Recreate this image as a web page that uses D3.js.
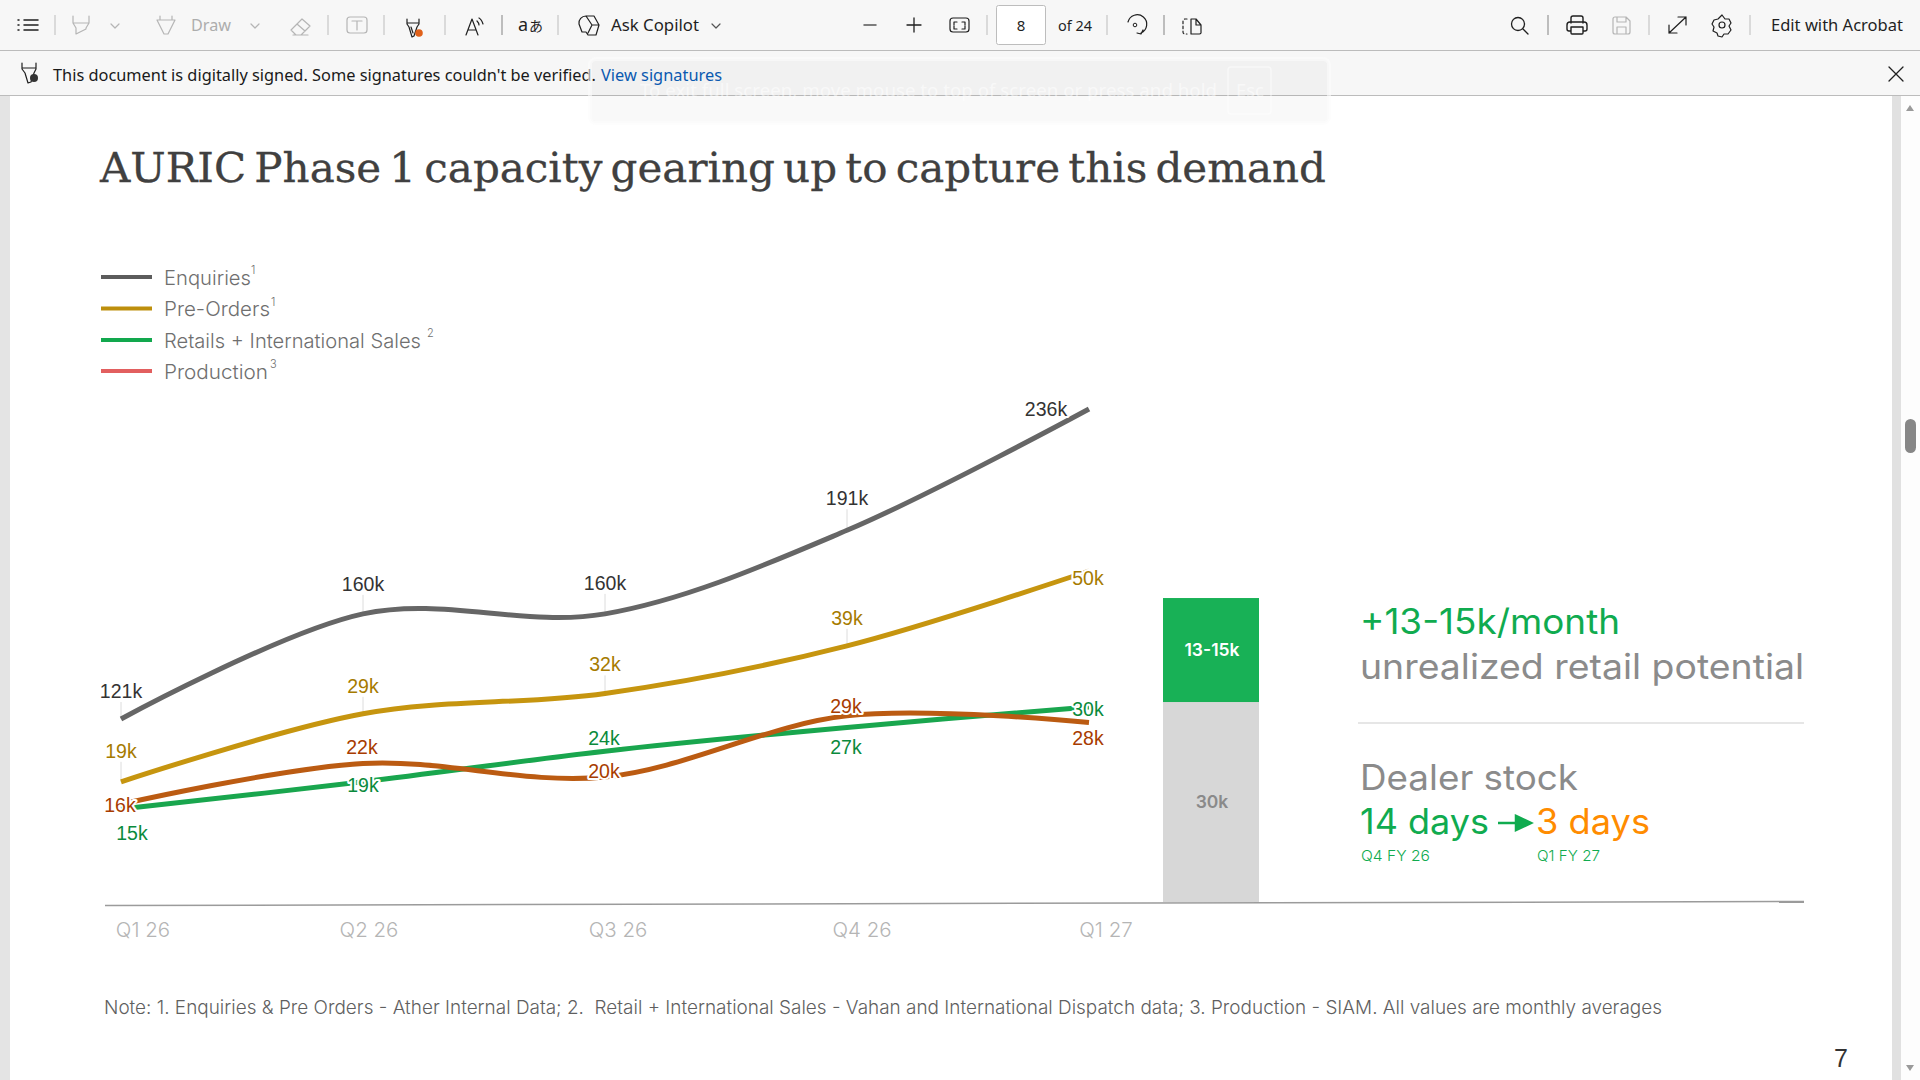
<!DOCTYPE html>
<html>
<head>
<meta charset="utf-8">
<title>AURIC Phase 1 capacity</title>
<script src="https://cdn.jsdelivr.net/npm/d3@7"></script>
<style>
  html, body { margin: 0; padding: 0; background: #fff; overflow: hidden; }
  svg { display: block; }
</style>
</head>
<body>
<div id="chart"></div>
<script>
const quarters = ['Q1 26', 'Q2 26', 'Q3 26', 'Q4 26', 'Q1 27'];
const enquiries = [121, 160, 160, 191, 236];
const preOrders = [19, 29, 32, 39, 50];
const retailSales = [15, 19, 23.5, 27, 30];
const production = [16, 22, 20, 29, 28];

const stockBarLabels = ['30k', '13-15k'];
const stockBarValues = [30, 15.6];

const legendNames = ['Enquiries', 'Pre-Orders', 'Retails + International Sales ', 'Production'];
const legendNotes = ['1', '1', '2', '3'];

const sansFont = 'Inter, "Noto Sans", sans-serif';
const uiFont = '"Noto Sans", "Open Sans", sans-serif';
const labelFont = '"Liberation Sans", Arial, sans-serif';

const svg = d3.select('#chart').append('svg').attr('width', 1920).attr('height', 1080);

const xQuarter = d3.scalePoint().domain(quarters).range([121, 1089]);
// each line family sits on its own scale, as on the slide
const yEnquiries = d3.scaleLinear().domain([121, 236]).range([719, 409]);
const yUnits = d3.scaleLinear().domain([0, 50]).range([911, 571]);
const yProduction = d3.scaleLinear().domain([0, 50]).range([913, 573]);
const yStock = d3.scaleLinear().domain([0, 50]).range([902, 568.7]);

function putText(parent, str, x, y, opts) {
  const t = parent.append('text')
    .text(str)
    .attr('x', x)
    .attr('y', y)
    .style('font-family', opts.font || sansFont)
    .style('font-size', opts.size + 'px')
    .style('font-weight', opts.weight || 400)
    .style('fill', opts.fill);
  if (opts.width) t.attr('textLength', opts.width).attr('lengthAdjust', 'spacingAndGlyphs');
  if (opts.anchor) t.style('text-anchor', opts.anchor);
  return t;
}

/* ---------- page ---------- */
svg.append('rect').attr('width', 1920).attr('height', 1080).attr('fill', '#fff');
svg.append('rect').attr('x', 0).attr('y', 96).attr('width', 10).attr('height', 984).attr('fill', '#e4e4e4');
svg.append('rect').attr('x', 1892).attr('y', 96).attr('width', 9).attr('height', 984).attr('fill', '#e1e1e1');
svg.append('rect').attr('x', 1901).attr('y', 96).attr('width', 19).attr('height', 984).attr('fill', '#fdfdfd');
svg.append('rect').attr('x', 1905).attr('y', 419).attr('width', 11).attr('height', 34).attr('rx', 5.5).attr('fill', '#878787');
svg.append('path').attr('d', 'M1906 111 L1910 105 L1914 111 Z').attr('fill', '#9a9a9a');
svg.append('path').attr('d', 'M1906 1065 L1910 1071 L1914 1065 Z').attr('fill', '#9a9a9a');

putText(svg, 'AURIC Phase 1 capacity gearing up to capture this demand', 100, 182, {
  font: '"DejaVu Serif", serif', size: 41, fill: '#404040', width: 1226
}).style('word-spacing', '-5px').style('stroke', '#404040').style('stroke-width', '0.3px');

/* ---------- legend ---------- */
const seriesColors = ['#5c5c5c', '#bd8f0c', '#12a84e', '#e25f5f'];
const legendY = [277, 308.5, 340, 371];
const legendWidths = [87, 106, 257, 104];
const noteGaps = [0, 1, 6, 2];

legendNames.forEach((name, i) => {
  svg.append('line')
    .attr('x1', 101).attr('x2', 152)
    .attr('y1', legendY[i]).attr('y2', legendY[i])
    .attr('stroke', seriesColors[i])
    .attr('stroke-width', 4);
  putText(svg, name, 164, Math.floor(legendY[i]) + 8, { size: 20, weight: 300, fill: '#6f6f6f', width: legendWidths[i] });
  const noteX = 164 + legendWidths[i] + noteGaps[i];
  putText(svg, legendNotes[i], noteX, legendY[i] - 3, { size: 11, weight: 300, fill: '#6f6f6f' });
});

/* ---------- bar ---------- */
const stockBar = svg.append('g').attr('class', 'g_stock_bar');
const barX = 1163, barWidth = 96;
const stacked = d3.cumsum(stockBarValues);

stockBar.selectAll('.stock_rect')
  .data(stockBarValues)
  .enter()
  .append('rect')
  .attr('class', 'stock_rect')
  .attr('x', barX)
  .attr('width', barWidth)
  .attr('y', (d, i) => yStock(stacked[i]))
  .attr('height', d => yStock(0) - yStock(d))
  .attr('fill', (d, i) => (i === 0 ? '#d7d7d7' : '#18b156'));

stockBarLabels.forEach((label, i) => {
  const mid = yStock(stacked[i] - stockBarValues[i] / 2);
  putText(stockBar, label, barX + barWidth / 2 + 1, mid + 6, {
    size: 17.5, weight: 600, anchor: 'middle', fill: i === 0 ? '#8a8a8a' : '#fff'
  });
});

/* ---------- axis ---------- */
svg.append('line')
  .attr('x1', 105).attr('y1', 905.5)
  .attr('x2', 1804).attr('y2', 901.5)
  .attr('stroke', '#9b9b9b')
  .attr('stroke-width', 1.5);

const tickShift = [21.5, 5.5, 12.5, 14.5, 16.5];
const xAxis = svg.append('g')
  .attr('class', 'g_x_axis')
  .attr('transform', 'translate(0,' + 918 + ')')
  .call(d3.axisBottom(xQuarter).tickSize(0));
xAxis.select('.domain').remove();
xAxis.selectAll('text')
  .attr('dx', (d, i) => tickShift[i])
  .attr('dy', '0.8em')
  .style('font-family', sansFont)
  .style('font-size', '20.5px')
  .style('font-weight', 300)
  .style('fill', '#b5b5b5');

/* ---------- lines ---------- */
const series = [
  { id: 'enquiries', values: enquiries, y: yEnquiries, color: '#666666', text: '#333333',
    offsets: [[0, -28], [0, -30], [0, -31], [0, -32], [-43, 0]], leaders: 4 },
  { id: 'preorders', values: preOrders, y: yUnits, color: '#c6950f', text: '#a67b00',
    offsets: [[0, -31], [0, -28], [0, -29], [0, -28], [-1, 7]], leaders: 4 },
  { id: 'retail', values: retailSales, y: yUnits, color: '#19a64e', text: '#0a8a3c',
    offsets: [[11, 24], [0, 3], [-1, -13], [-1, 20], [-1, 2]], leaders: 0 },
  { id: 'production', values: production, y: yProduction, color: '#bb5b12', text: '#a83c00',
    offsets: [[-1, 1], [-1, -16], [-1, -6], [-1, -10], [-1, 15]], leaders: 0 }
];

const gLines = svg.append('g').attr('class', 'g_lines');
const gLabels = svg.append('g').attr('class', 'g_labels');

series.forEach(s => {
  const line = d3.line()
    .x((d, i) => xQuarter(quarters[i]))
    .y(d => s.y(d))
    .curve(d3.curveCatmullRom.alpha(0));

  for (let i = 0; i < s.leaders; i++) {
    gLines.append('line')
      .attr('x1', xQuarter(quarters[i])).attr('x2', xQuarter(quarters[i]))
      .attr('y1', s.y(s.values[i]))
      .attr('y2', s.y(s.values[i]) + s.offsets[i][1] + 11)
      .attr('stroke', '#dcdcdc')
      .attr('stroke-width', 1);
  }

  gLines.append('path')
    .datum(s.values)
    .attr('class', 'line_' + s.id)
    .attr('d', line)
    .attr('fill', 'none')
    .attr('stroke', s.color)
    .attr('stroke-width', 5);

  gLabels.selectAll('.label_' + s.id)
    .data(s.values)
    .enter()
    .append('text')
    .attr('class', 'label_' + s.id)
    .text(d => Math.round(d) + 'k')
    .attr('x', (d, i) => xQuarter(quarters[i]) + s.offsets[i][0])
    .attr('y', (d, i) => s.y(d) + s.offsets[i][1])
    .attr('dominant-baseline', 'central')
    .style('text-anchor', 'middle')
    .style('font-family', labelFont)
    .style('font-size', '19.5px')
    .style('fill', s.text)
    .style('stroke', '#fff')
    .style('stroke-width', '4px')
    .style('stroke-linejoin', 'round')
    .style('paint-order', 'stroke');
});

/* ---------- right panel ---------- */
const green = '#10ab4f';
const side = svg.append('g').attr('class', 'g_side');
putText(side, '+13-15k/month', 1360, 634, { size: 35, weight: 400, fill: green, width: 260 });
putText(side, 'unrealized retail potential', 1360, 679, { size: 35, weight: 400, fill: '#8b8b8b', width: 444 });
side.append('line').attr('x1', 1358).attr('x2', 1804).attr('y1', 723).attr('y2', 723)
  .attr('stroke', '#dedede').attr('stroke-width', 1.5);
putText(side, 'Dealer stock', 1360, 790, { size: 35, weight: 400, fill: '#8b8b8b', width: 218 });
putText(side, '14 days', 1360, 834, { size: 35, weight: 400, fill: green, width: 129 });
side.append('path')
  .attr('d', 'M1498 823 H1518 M1516 816 L1531 823 L1516 830 Z')
  .attr('fill', green).attr('stroke', green).attr('stroke-width', 2.5);
putText(side, '3 days', 1536, 834, { size: 35, weight: 400, fill: '#ff8c00', width: 114 });
putText(side, 'Q4 FY 26', 1361, 861, { size: 15, weight: 300, fill: green, width: 69 });
putText(side, 'Q1 FY 27', 1537, 861, { size: 15, weight: 300, fill: green, width: 63 });

putText(svg, 'Note: 1. Enquiries & Pre Orders - Ather Internal Data; 2.  Retail + International Sales - Vahan and International Dispatch data; 3. Production - SIAM. All values are monthly averages',
  104, 1014, { size: 18.5, weight: 300, fill: '#5f5f5f', width: 1558 }).style('white-space', 'pre');
putText(svg, '7', 1834, 1067, { font: labelFont, size: 25, fill: '#333' });

/* ---------- viewer toolbar ---------- */
const bar = svg.append('g').attr('class', 'g_toolbar');
bar.append('rect').attr('width', 1920).attr('height', 95).attr('fill', '#f7f7f7');
bar.append('line').attr('x1', 0).attr('x2', 1920).attr('y1', 50.5).attr('y2', 50.5).attr('stroke', '#bcbcbc');
bar.append('line').attr('x1', 0).attr('x2', 1920).attr('y1', 95.5).attr('y2', 95.5).attr('stroke', '#bcbcbc');

[55, 328, 384, 445, 502, 558, 987, 1107, 1164, 1548, 1649, 1750].forEach(x => {
  bar.append('line').attr('x1', x).attr('x2', x).attr('y1', 15).attr('y2', 35).attr('stroke', '#bdbdbd')
    .attr('stroke-width', x === 502 || x === 1164 || x === 1548 ? 2 : 1);
});

function icon(d, color, w) {
  return bar.append('path').attr('d', d).attr('fill', 'none').attr('stroke', color).attr('stroke-width', w || 1.2)
    .attr('stroke-linejoin', 'round').attr('stroke-linecap', 'round');
}
const dim = '#b5b5b5', dark = '#1f1f1f';
icon('M18 20h1M18 25h1M18 30h1M24 20h14M24 25h14M24 30h14', dark, 1.5);
icon('M73 16v7l3 5v6l10-5v-1l3-5v-7M73 23h16', dim);
icon('M111 24l4 4 4-4', dim);
icon('M157 20h18l-7 14h-4zM160 16v4M172 16v4', dim);
putText(bar, 'Draw', 191, 31, { font: uiFont, size: 17, fill: '#adadad', width: 40 });
icon('M251 24l4 4 4-4', dim);
icon('M291 30l11-11 8 7-9 9h-5zM297 24l8 7M293 35h15', dim);
icon('M350 17h14a3 3 0 0 1 3 3v10a3 3 0 0 1-3 3h-14a3 3 0 0 1-3-3v-10a3 3 0 0 1 3-3zM352 21h10M357 21v9', dim);
icon('M407 19v5l2 3 3 10 2-1 3-9 2-3v-5M407 23h12M411 27l2 6', dark);
bar.append('circle').attr('cx', 419).attr('cy', 33).attr('r', 3.8).attr('fill', '#e0611a');
icon('M466 35l6-16 6 16M468 30h8M479 18c2 1 3 3 4 6M477 21c1 1 2 2 2 4', dark);
putText(bar, 'a', 518, 31, { font: uiFont, size: 18, fill: dark });
putText(bar, '\u3042', 529, 31, { font: '"Noto Sans CJK JP"', size: 14, fill: dark });
icon('M579 24a7 7 0 0 1 7-8h8l5 9-3 10h-8l-2-3h-4zM586 16l6 9h7M592 25l-4 8', dark);
putText(bar, 'Ask Copilot', 611, 31, { font: uiFont, size: 17, fill: '#1f1f1f', width: 88 });
icon('M712 24l4 4 4-4', '#555');
icon('M864 25h12', '#555', 1.5);
icon('M907 25h14M914 18v14', dark, 1.3);
icon('M953 18h13a3 3 0 0 1 3 3v8a3 3 0 0 1-3 3h-13a3 3 0 0 1-3-3v-8a3 3 0 0 1 3-3zM954 25v-3h3M962 22h3v3M965 26v3h-3M957 29h-3v-3', dark);
bar.append('rect').attr('x', 996.5).attr('y', 5.5).attr('width', 49).attr('height', 39).attr('rx', 2).attr('fill', '#fff').attr('stroke', '#bdbdbd');
putText(bar, '8', 1021, 31, { font: uiFont, size: 15, anchor: 'middle', fill: dark });
putText(bar, 'of 24', 1058, 31, { font: uiFont, size: 15, fill: dark, width: 34 });
icon('M1128 22a9.5 9.5 0 1 1 13 11M1143 30l-2 4-4-1', dark);
bar.append('circle').attr('cx', 1135).attr('cy', 25).attr('r', 1.8).attr('fill', 'none').attr('stroke', dark);
icon('M1191 19h5l5 6v8a2 2 0 0 1-2 1h-8zM1196 19v6h5', dark);
icon('M1187 19h-2a2 2 0 0 0-2 2v11a2 2 0 0 0 2 2h2', dark).attr('stroke-dasharray', '2.5 2.5');
bar.append('circle').attr('cx', 1518).attr('cy', 24).attr('r', 6.5).attr('fill', 'none').attr('stroke', dark).attr('stroke-width', 1.3);
icon('M1523 29l5 5', dark, 1.3);
icon('M1571 23v-5a2 2 0 0 1 2-2h8a2 2 0 0 1 2 2v5M1571 31h-2a2 2 0 0 1-2-2v-4a3 3 0 0 1 3-3h14a3 3 0 0 1 3 3v4a2 2 0 0 1-2 2h-2M1571 27h12v6a1 1 0 0 1-1 1h-10a1 1 0 0 1-1-1z', dark, 1.4);
icon('M1615 17h11l4 4v11a2 2 0 0 1-2 2h-13a2 2 0 0 1-2-2v-13a2 2 0 0 1 2-2zM1617 17v5h9v-5M1617 34v-7h9v7', dim);
icon('M1669 33l17-16M1678 17h8v8M1669 25v8h8', dark);
icon('M1722 15l3 4h4l2 4-2 3 2 4-3 4h-4l-2 3-4-1-1-3-4-2 1-4-2-3 2-4 4-1z', dark);
bar.append('circle').attr('cx', 1722).attr('cy', 25).attr('r', 3).attr('fill', 'none').attr('stroke', dark).attr('stroke-width', 1.2);
putText(bar, 'Edit with Acrobat', 1771, 31, { font: uiFont, size: 17, fill: '#1f1f1f', width: 132 });

icon('M22 63v6l3 4 3 10 3-1 3-9 2-4v-6M22 68h14', dark);
bar.append('circle').attr('cx', 34).attr('cy', 78).attr('r', 4).attr('fill', '#333');
putText(bar, "This document is digitally signed. Some signatures couldn't be verified.", 53, 81, { font: uiFont, size: 15.5, fill: '#1a1a1a', width: 543 });
putText(bar, 'View signatures', 601, 81, { font: uiFont, size: 16, fill: '#0b5cb5', width: 121 });
icon('M1889 67l14 14M1903 67l-14 14', dark, 1.3);

/* ---------- fading fullscreen notice ---------- */
const toast = svg.append('g').attr('class', 'g_toast');
toast.append('rect').attr('x', 590).attr('y', 59).attr('width', 739).attr('height', 64).attr('rx', 6)
  .attr('fill', 'rgba(0,0,0,0.025)').attr('stroke', 'rgba(252,252,252,0.6)').attr('stroke-width', 4);
putText(toast, 'To exit full screen, move mouse to top of screen or press and hold', 640, 97, {
  font: uiFont, size: 18, fill: 'rgba(255,255,255,0.55)', width: 577
});
toast.append('rect').attr('x', 1228).attr('y', 67).attr('width', 43).attr('height', 47).attr('rx', 3)
  .attr('fill', 'none').attr('stroke', 'rgba(255,255,255,0.5)').attr('stroke-width', 1.5);
putText(toast, 'Esc', 1236, 97, { font: uiFont, size: 18, fill: 'rgba(255,255,255,0.55)', width: 28 });
</script>
</body>
</html>
